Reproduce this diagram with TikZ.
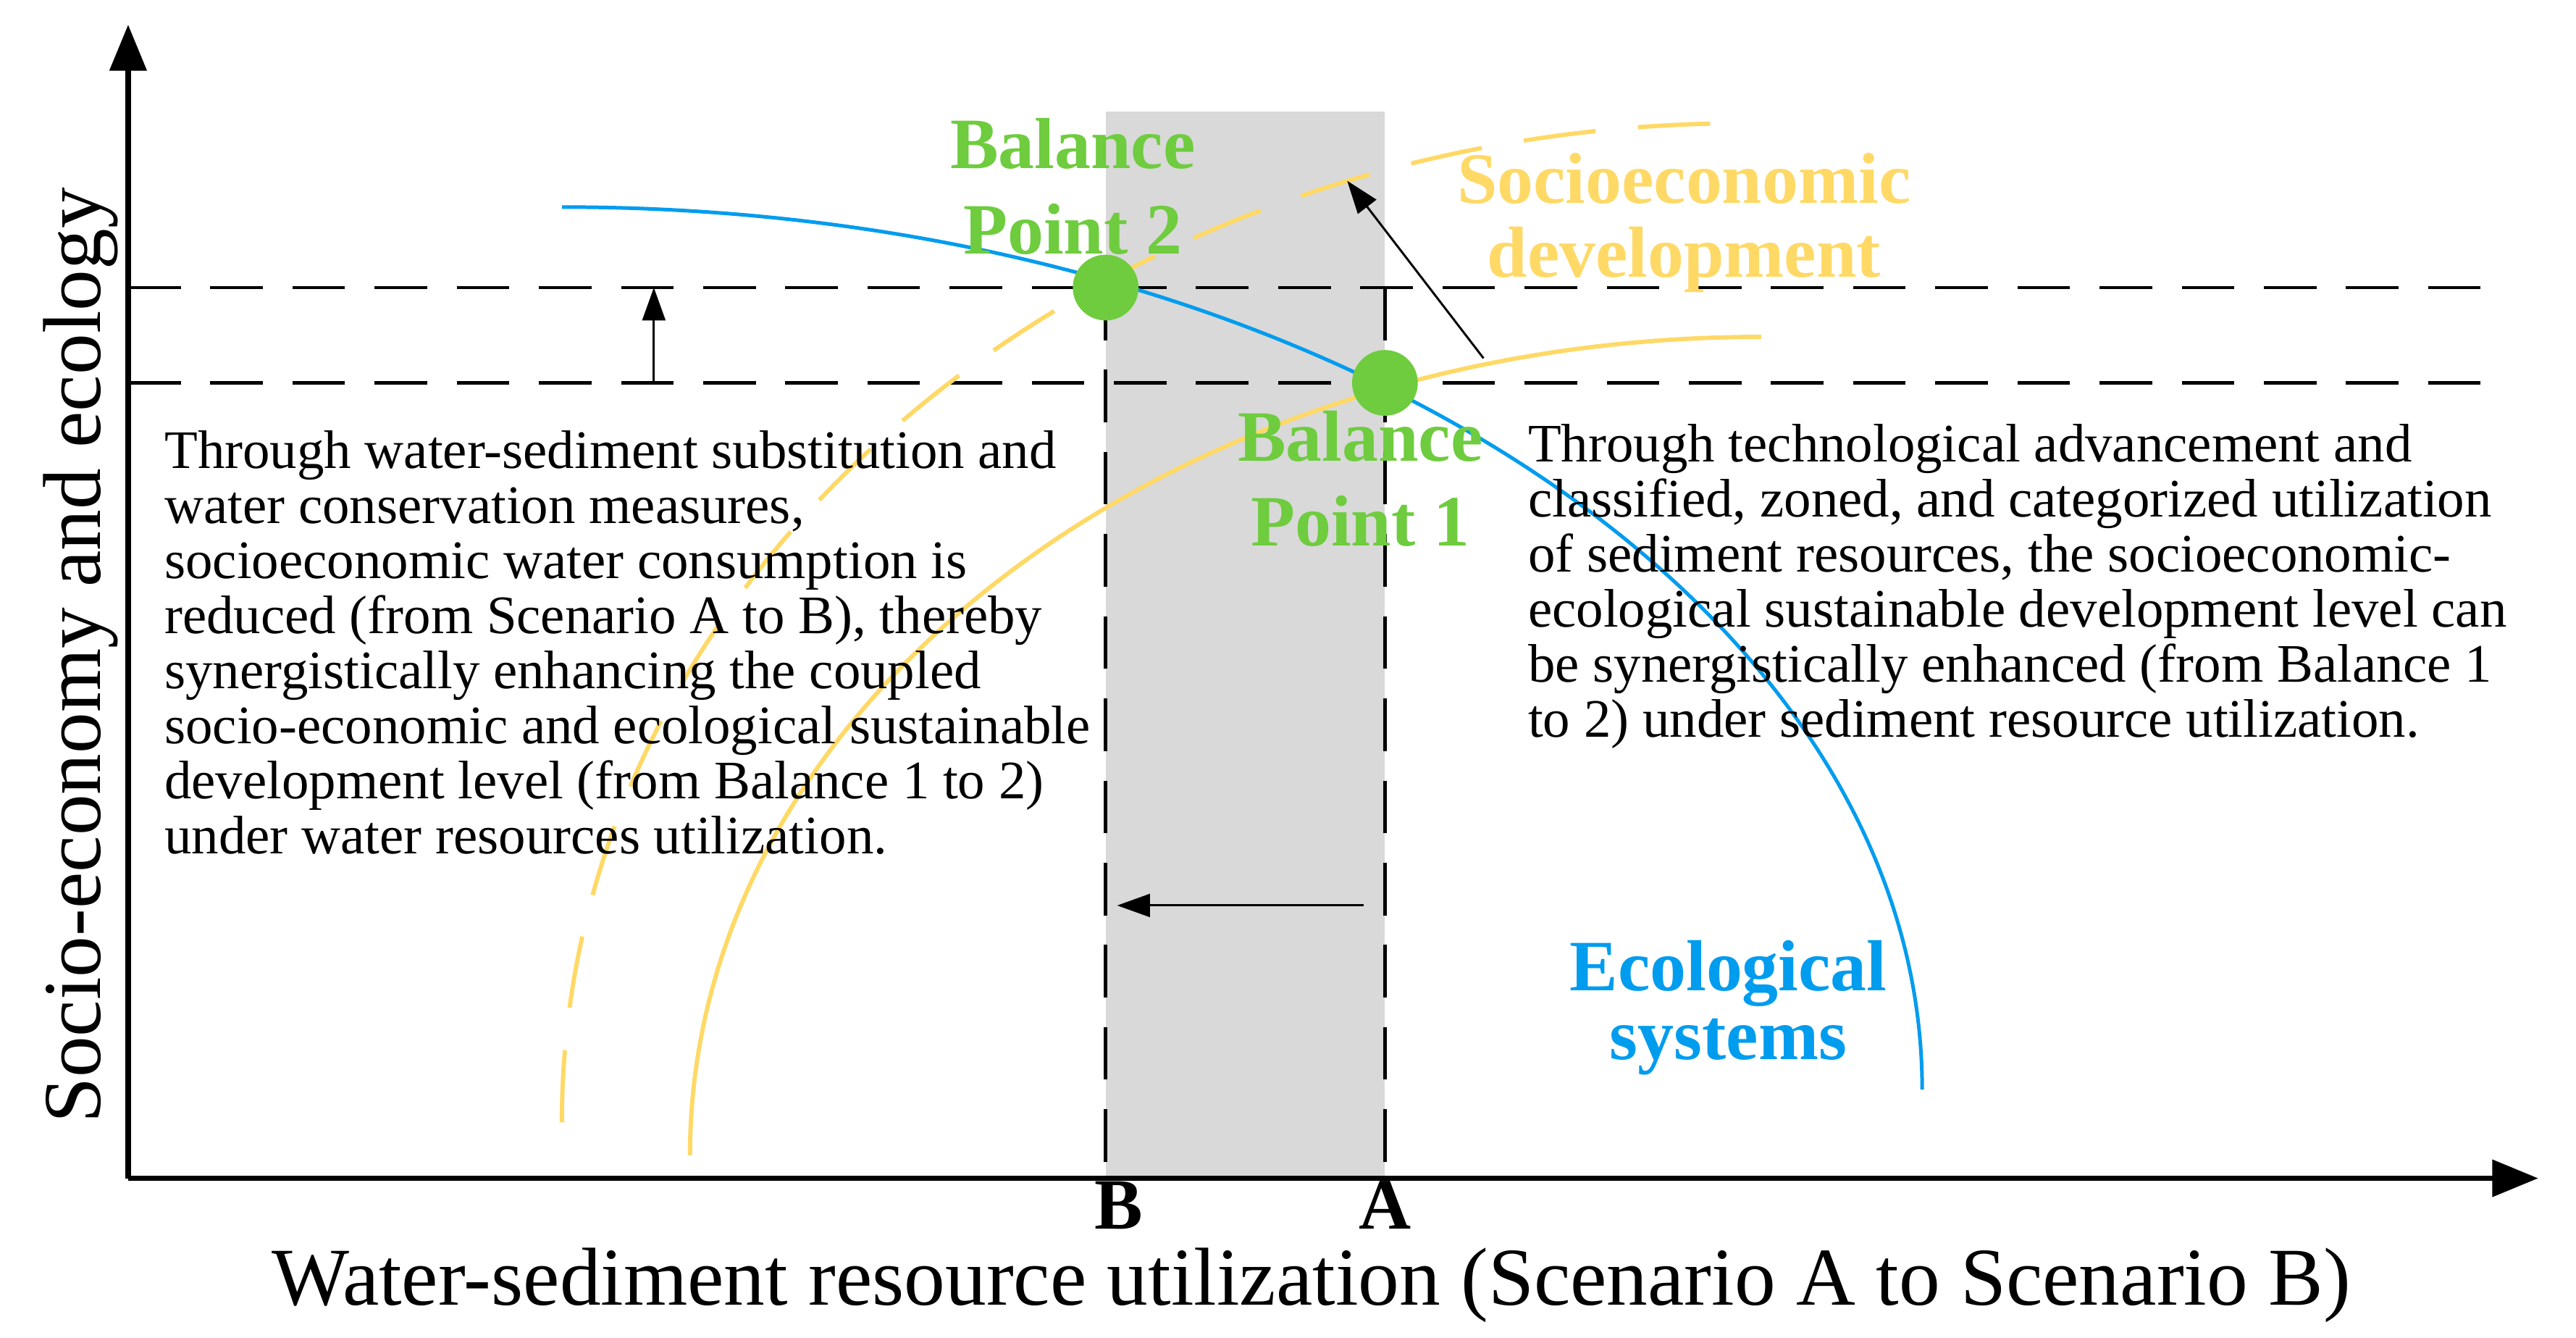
\documentclass[tikz,border=0pt]{standalone}
\usepackage{fontspec}
\setmainfont{Liberation Serif}
\usetikzlibrary{arrows.meta}
\definecolor{bpgreen}{RGB}{110,204,62}
\definecolor{seyellow}{RGB}{255,217,102}
\definecolor{ecoblue}{RGB}{0,156,238}
\definecolor{bandgray}{RGB}{217,217,217}
\begin{document}
\begin{tikzpicture}[x=1pt,y=1pt,
  axisline/.style={line width=3.5pt,-{Triangle[length=28pt,width=22pt]}},
  guide/.style={line width=2pt, dash pattern=on 32pt off 18pt},
  ecocurve/.style={line width=2.2pt, ecoblue},
  securve/.style={line width=2.6pt, seyellow},
  sedashed/.style={line width=2.6pt, seyellow, dash pattern=on 44pt off 26pt},
  thinarrow/.style={line width=1.3pt,-{Triangle[length=20pt,width=14pt]}},
  balpt/.style={circle, fill=bpgreen, minimum size=40pt, inner sep=0pt},
  bodytext/.style={inner sep=0pt, align=left, font=\fontsize{33}{33.5}\selectfont},
  bplabel/.style={inner sep=0pt, align=center, text=bpgreen, font=\bfseries\fontsize{44}{52}\selectfont},
  axislabel/.style={inner sep=0pt, font=\fontsize{50}{55}\selectfont},
  ticklabel/.style={inner sep=0pt, font=\bfseries\fontsize{44}{50}\selectfont}
]
\useasboundingbox (0,0) rectangle (1568,814);
\fill[white] (0,0) rectangle (1568,814);

% shaded band between scenarios
\fill[bandgray] (673,97) rectangle (843,746);

% coordinates
\coordinate (O) at (78,97);
\coordinate (ytip) at (78,799);
\coordinate (xtip) at (1545,97);
\coordinate (h2l) at (78,639);
\coordinate (h2r) at (1515,639);
\coordinate (h1l) at (78,581);
\coordinate (h1r) at (1515,581);
\coordinate (Bbot) at (673,97);
\coordinate (Btop) at (673,639);
\coordinate (Abot) at (843,97);
\coordinate (Atop) at (843,639);

% dashed guide lines
\draw[guide] (h2l) -- (h2r);
\draw[guide] (h1l) -- (h1r);
\draw[guide] (Btop) -- (Bbot);
\draw[guide] (Atop) -- (Abot);

% curves
\draw[sedashed] (342,131) arc[start angle=180, end angle=90, x radius=720, y radius=608];
\draw[securve] (420,111) arc[start angle=180, end angle=90, x radius=652, y radius=498];
\draw[ecocurve] (342,688) arc[start angle=90, end angle=0, x radius=828, y radius=537];

% axes
\draw[axisline] (O) -- (ytip);
\draw[axisline] (O) -- (xtip);

% arrows
\coordinate (va1) at (398,581);
\coordinate (va2) at (398,639);
\draw[thinarrow] (va1) -- (va2);
\coordinate (ha1) at (830,263);
\coordinate (ha2) at (680,263);
\draw[thinarrow] (ha1) -- (ha2);
\coordinate (da1) at (903,596);
\coordinate (da2) at (820,704);
\draw[thinarrow] (da1) -- (da2);

% balance points
\node[balpt] (bp2) at (673,639) {};
\node[balpt] (bp1) at (843,581) {};
\node[bplabel, anchor=south] (bp2lab) at (653,659) {Balance\\Point 2};
\node[bplabel, anchor=south] (bp1lab) at (828,481) {Balance\\Point 1};

% curve labels
\node[inner sep=0pt, align=center, text=seyellow, font=\bfseries\fontsize{44}{45}\selectfont, anchor=north] (selab) at (1025,721) {Socioeconomic\\development};
\node[inner sep=0pt, align=center, text=ecoblue, font=\bfseries\fontsize{44}{42}\selectfont, anchor=north] (ecolab) at (1052,242) {Ecological\\systems};

% explanatory texts
\node[bodytext, anchor=north west] (lefttext) at (100,552) {Through water-sediment substitution and\\water conservation measures,\\socioeconomic water consumption is\\reduced (from Scenario A to B), thereby\\synergistically enhancing the coupled\\socio-economic and ecological sustainable\\development level (from Balance 1 to 2)\\under water resources utilization.};
\node[bodytext, anchor=north west] (righttext) at (930,556) {Through technological advancement and\\classified, zoned, and categorized utilization\\of sediment resources, the socioeconomic-\\ecological sustainable development level can\\be synergistically enhanced (from Balance 1\\to 2) under sediment resource utilization.};

% tick labels
\node[ticklabel, anchor=base] (Blab) at (681,66) {B};
\node[ticklabel, anchor=base] (Alab) at (843,66) {A};

% axis labels
\node[axislabel, anchor=base] (xlab) at (798,20) {Water-sediment resource utilization (Scenario A to Scenario B)};
\node[axislabel, anchor=base, rotate=90] (ylab) at (61,415) {Socio-economy and ecology};
\end{tikzpicture}
\end{document}
